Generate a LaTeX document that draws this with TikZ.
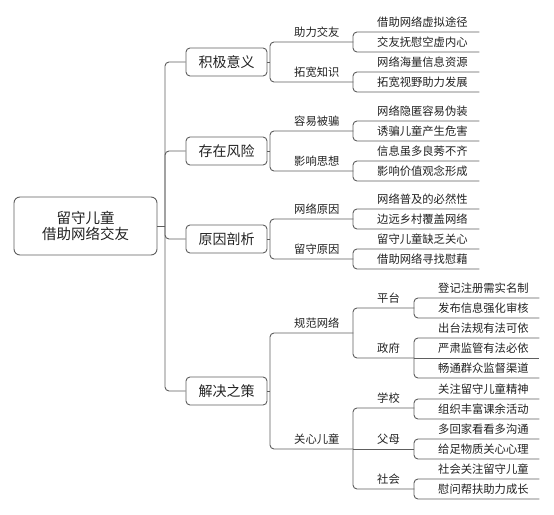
\documentclass[tikz,border=0pt]{standalone}
\usepackage{fontspec}
\newfontfamily\cjk{Noto Sans CJK SC}
\definecolor{linec}{HTML}{5E5E5E}
\definecolor{txt}{HTML}{222222}
\newcommand\lb[2]{\makebox[#1pt][l]{\hspace*{24pt}#2}}
\begin{document}
\begin{tikzpicture}[x=1pt,y=-1pt,
  conn/.style={draw=linec, line width=0.9pt, rounded corners=4pt},
  stub/.style={draw=linec, line width=0.9pt},
  lab/.style={inner sep=0pt, anchor=south west, text height=9pt, text depth=5.7pt,
    font=\cjk\fontsize{11.3}{13}\selectfont, text=txt},
  box/.style={draw=linec, line width=0.9pt, rounded corners=4pt, minimum width=81pt,
    minimum height=28pt, inner sep=0pt, font=\cjk\fontsize{14}{16}\selectfont, text=txt}]
\useasboundingbox (0,0) rectangle (554,514);

% root and level 1
\node[box, minimum width=143pt, minimum height=58pt, rounded corners=6pt, align=center,
  font=\cjk\fontsize{14.5}{16}\selectfont] (root) at (85.5,226) {留守儿童\\借助网络交友};
\node[box] (b1) at (226.5,62) {积极意义};
\node[box] (b2) at (226.5,151) {存在风险};
\node[box] (b3) at (226.5,239) {原因剖析};
\node[box] (b4) at (226.5,391) {解决之策};

\coordinate (tr) at (165,226);
\draw[stub] (root.east) -- (tr);
\foreach \b in {b1,b2,b3,b4} \draw[conn] (tr) |- (\b.west);

% group 1
\node[lab] (a1) at (270,42) {\lb{83}{助力交友}};
\node[lab] (a2) at (270,82) {\lb{83}{拓宽知识}};
\node[lab] (a11) at (353,32) {\lb{126}{借助网络虚拟途径}};
\node[lab] (a12) at (353,52) {\lb{126}{交友抚慰空虚内心}};
\node[lab] (a21) at (353,72) {\lb{126}{网络海量信息资源}};
\node[lab] (a22) at (353,92) {\lb{126}{拓宽视野助力发展}};
\draw[stub] (b1.east) -- (b1.east -| a1.south west);
\draw[conn] (a1.south east) -- (a1.south west) -- (a2.south west) -- (a2.south east);
\draw[conn] (a11.south east) -- (a11.south west) -- (a12.south west) -- (a12.south east);
\draw[conn] (a21.south east) -- (a21.south west) -- (a22.south west) -- (a22.south east);

% group 2
\node[lab] (r1) at (270,131) {\lb{83}{容易被骗}};
\node[lab] (r2) at (270,171) {\lb{83}{影响思想}};
\node[lab] (r11) at (353,121) {\lb{126}{网络隐匿容易伪装}};
\node[lab] (r12) at (353,141) {\lb{126}{诱骗儿童产生危害}};
\node[lab] (r21) at (353,161) {\lb{126}{信息虽多良莠不齐}};
\node[lab] (r22) at (353,181) {\lb{126}{影响价值观念形成}};
\draw[stub] (b2.east) -- (b2.east -| r1.south west);
\draw[conn] (r1.south east) -- (r1.south west) -- (r2.south west) -- (r2.south east);
\draw[conn] (r11.south east) -- (r11.south west) -- (r12.south west) -- (r12.south east);
\draw[conn] (r21.south east) -- (r21.south west) -- (r22.south west) -- (r22.south east);

% group 3
\node[lab] (y1) at (270,219) {\lb{83}{网络原因}};
\node[lab] (y2) at (270,259) {\lb{83}{留守原因}};
\node[lab] (y11) at (353,209) {\lb{126}{网络普及的必然性}};
\node[lab] (y12) at (353,229) {\lb{126}{边远乡村覆盖网络}};
\node[lab] (y21) at (353,249) {\lb{126}{留守儿童缺乏关心}};
\node[lab] (y22) at (353,269) {\lb{126}{借助网络寻找慰藉}};
\draw[stub] (b3.east) -- (b3.east -| y1.south west);
\draw[conn] (y1.south east) -- (y1.south west) -- (y2.south west) -- (y2.south east);
\draw[conn] (y11.south east) -- (y11.south west) -- (y12.south west) -- (y12.south east);
\draw[conn] (y21.south east) -- (y21.south west) -- (y22.south west) -- (y22.south east);

% group 4
\node[lab] (j1) at (270,333) {\lb{83}{规范网络}};
\node[lab] (j2) at (270,449) {\lb{83}{关心儿童}};
\node[lab] (p1) at (353,308) {\lb{61}{平台}};
\node[lab] (p2) at (353,358) {\lb{61}{政府}};
\node[lab] (q1) at (353,408) {\lb{61}{学校}};
\node[lab] (q2) at (353,449) {\lb{61}{父母}};
\node[lab] (q3) at (353,489) {\lb{61}{社会}};
\node[lab] (p11) at (414,298) {\lb{125}{登记注册需实名制}};
\node[lab] (p12) at (414,318) {\lb{125}{发布信息强化审核}};
\node[lab] (p21) at (414,338) {\lb{125}{出台法规有法可依}};
\node[lab] (p22) at (414,358) {\lb{125}{严肃监管有法必依}};
\node[lab] (p23) at (414,378) {\lb{125}{畅通群众监督渠道}};
\node[lab] (q11) at (414,399) {\lb{125}{关注留守儿童精神}};
\node[lab] (q12) at (414,419) {\lb{125}{组织丰富课余活动}};
\node[lab] (q21) at (414,439) {\lb{125}{多回家看看多沟通}};
\node[lab] (q22) at (414,459) {\lb{125}{给足物质关心心理}};
\node[lab] (q31) at (414,479) {\lb{125}{社会关注留守儿童}};
\node[lab] (q32) at (414,499) {\lb{125}{慰问帮扶助力成长}};
\draw[stub] (b4.east) -- (b4.east -| j1.south west);
\draw[conn] (j1.south east) -- (j1.south west) -- (j2.south west) -- (j2.south east);
\draw[conn] (p1.south east) -- (p1.south west) -- (p2.south west) -- (p2.south east);
\draw[conn] (q1.south east) -- (q1.south west) -- (q3.south west) -- (q3.south east);
\draw[stub] (q2.south west) -- (q2.south east);
\draw[conn] (p11.south east) -- (p11.south west) -- (p12.south west) -- (p12.south east);
\draw[conn] (p21.south east) -- (p21.south west) -- (p23.south west) -- (p23.south east);
\draw[stub] (p22.south west) -- (p22.south east);
\draw[conn] (q11.south east) -- (q11.south west) -- (q12.south west) -- (q12.south east);
\draw[conn] (q21.south east) -- (q21.south west) -- (q22.south west) -- (q22.south east);
\draw[conn] (q31.south east) -- (q31.south west) -- (q32.south west) -- (q32.south east);
\end{tikzpicture}
\end{document}
